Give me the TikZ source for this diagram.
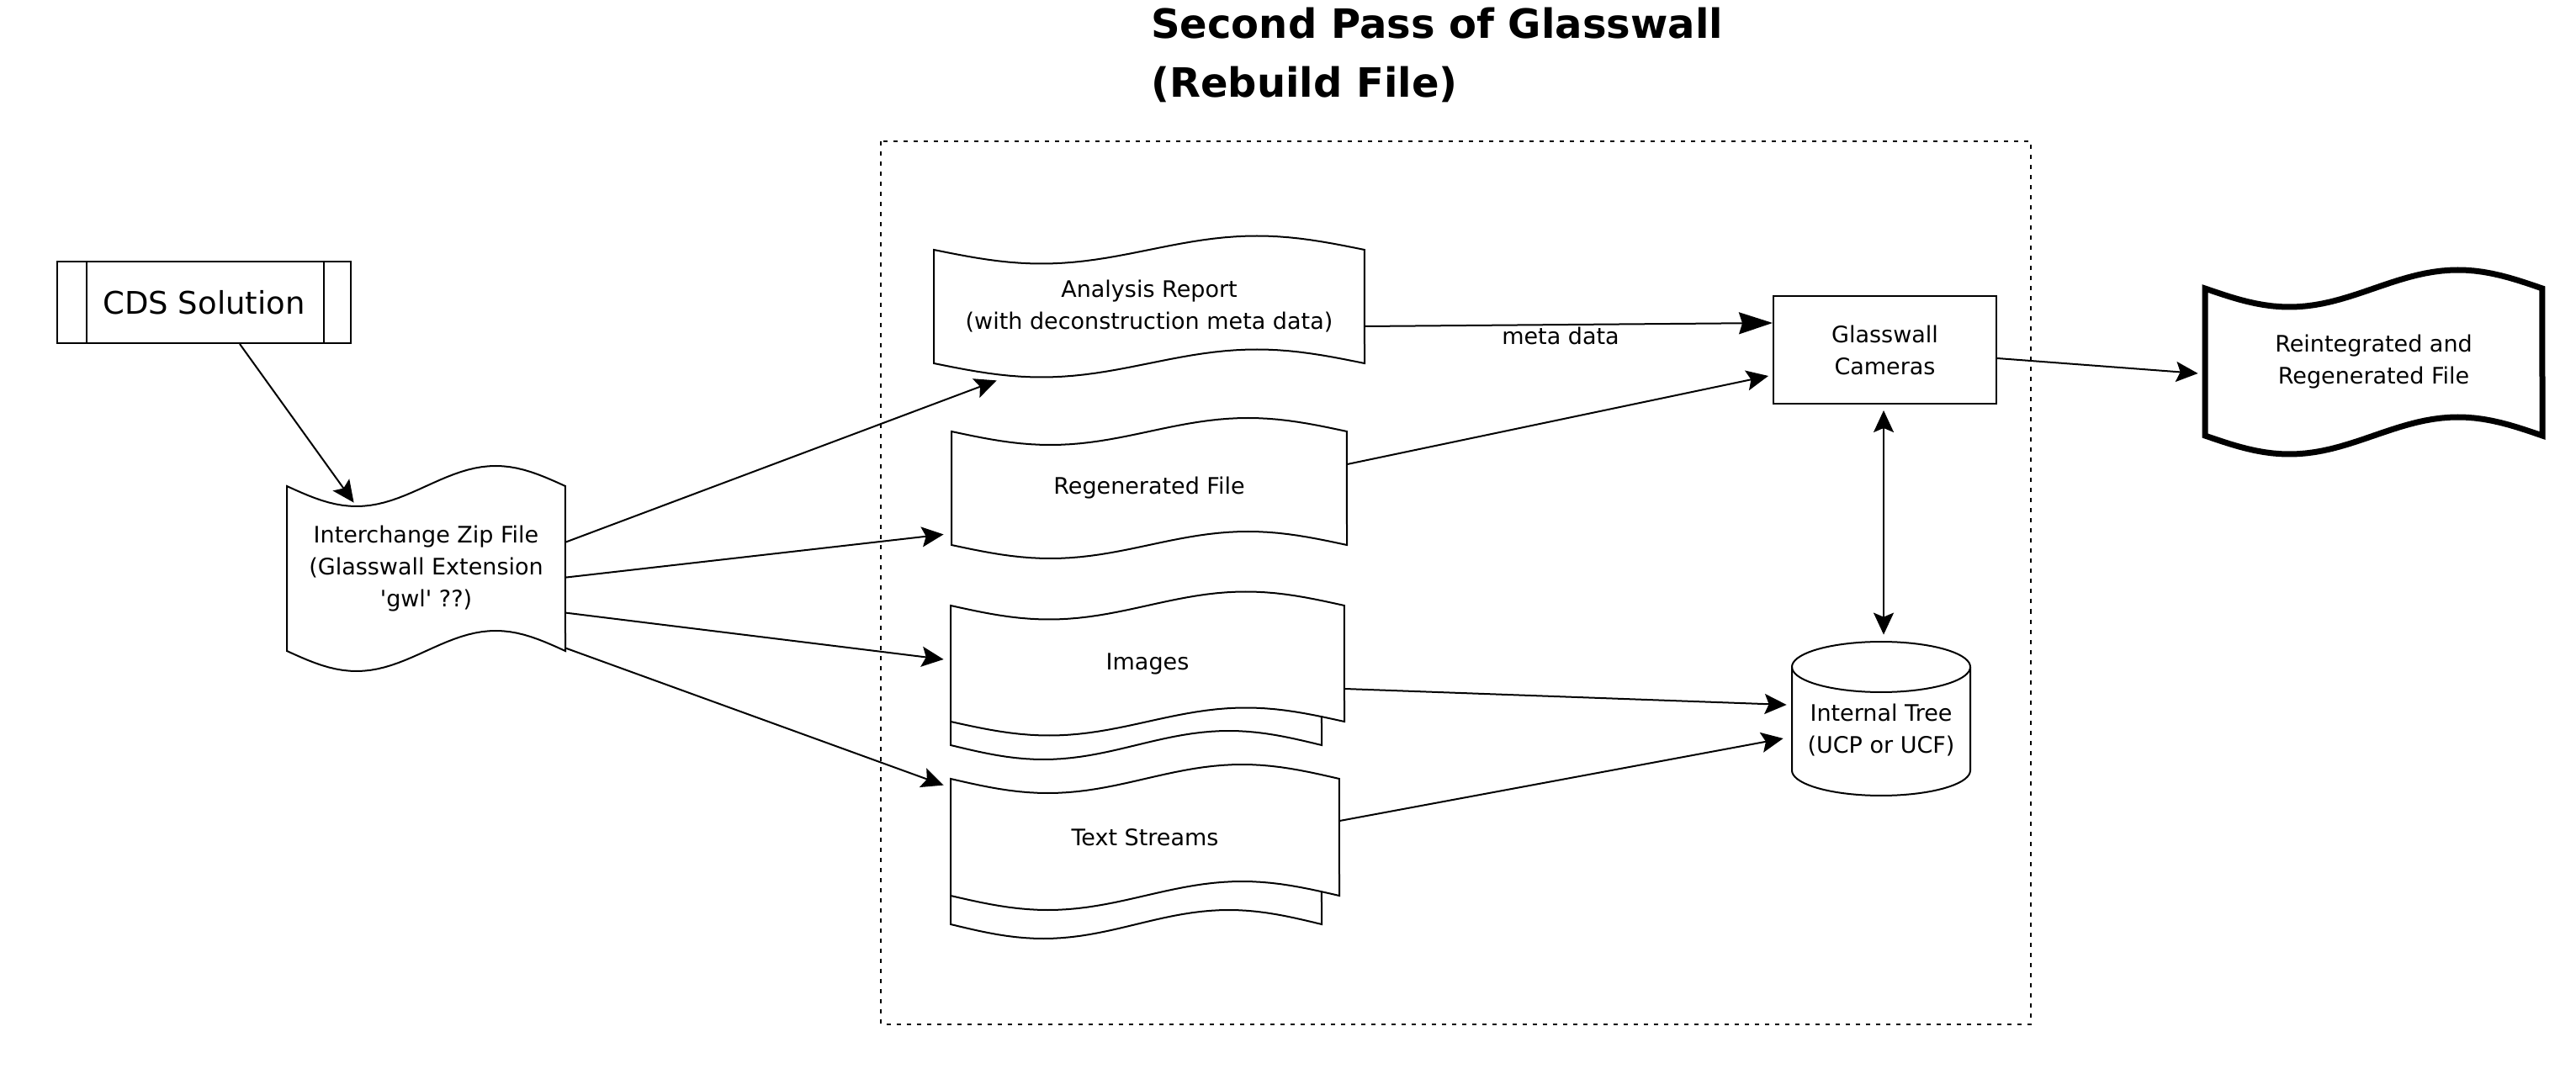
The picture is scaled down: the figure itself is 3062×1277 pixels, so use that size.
\documentclass[tikz,border=0pt]{standalone}
\usepackage{fontspec}
\setmainfont{DejaVu Sans}[Ligatures=TeXOff]
\usetikzlibrary{arrows.meta,calc}
\newcommand\tapeshape[6]{% #1 style, #2 x0, #3 x1, #4 yt, #5 yb, #6 amplitude
  \draw[#1] (#2,#4) -- plot[domain=0:1,samples=41,variable=\t] ({#2+(#3-#2)*\t},{#4+#6*sin(360*\t)})
    -- (#3,#5) -- plot[domain=1:0,samples=41,variable=\t] ({#2+(#3-#2)*\t},{#5+#6*sin(360*\t)}) -- cycle;
}
\tikzset{
  shp/.style={draw=black, line width=1pt, fill=white},
  thickshp/.style={draw=black, line width=3.5pt, fill=white, line join=miter},
  lbl/.style={inner sep=0pt, align=center, font=\fontsize{13.5}{19}\selectfont},
  holder/.style={lbl, draw=none},
  arr/.style={line width=1pt, -{Stealth[length=13pt,width=12pt,inset=2.5pt]}},
  bigarr/.style={line width=1pt, -{Stealth[length=20pt,width=13pt,inset=2pt]}},
  dblarr/.style={line width=1pt, {Stealth[length=13pt,width=12pt,inset=2.5pt]}-{Stealth[length=13pt,width=12pt,inset=2.5pt]}},
  passbox/.style={draw=black, line width=1pt, dash pattern=on 2.5pt off 3.5pt}
}
\begin{document}
\begin{tikzpicture}[x=0.5pt,y=-0.5pt]
\useasboundingbox (0,0) rectangle (3062,1277);
\fill[white] (0,0) rectangle (3062,1277);

% title
\node[anchor=base west, align=left, inner sep=0pt, font=\fontsize{24}{35}\selectfont\bfseries] (title) at (1368,116) {Second Pass of Glasswall\\(Rebuild File)};

% dotted frame
\draw[passbox] (1047,168) rectangle (2413.5,1217.5);

% shapes
\tapeshape{shp}{341}{672}{578}{774}{24}
\tapeshape{shp}{1110}{1622}{297}{432}{16.5}
\tapeshape{shp}{1131}{1601}{513}{648}{16}
\tapeshape{shp}{1130}{1571}{748}{886}{17}
\tapeshape{shp}{1130}{1598}{720}{858}{16.5}
\tapeshape{shp}{1130}{1571}{960}{1099}{17}
\tapeshape{shp}{1130}{1592}{926}{1065}{17}
\tapeshape{thickshp}{2621}{3022}{343}{518}{22}

% cylinder
\draw[shp] (2130,793) -- (2130,916)
  -- plot[domain=180:360,samples=37,variable=\t] ({2236+106*cos(\t)},{916-30*sin(\t)})
  -- (2342,793)
  -- plot[domain=0:180,samples=37,variable=\t] ({2236+106*cos(\t)},{793-30*sin(\t)}) -- cycle;
\draw[line width=1pt] plot[domain=0:180,samples=37,variable=\t] ({2236+106*cos(\t)},{793+30*sin(\t)});

% nodes
\node[draw=black, line width=1pt, inner sep=0pt, minimum width=174.5pt, minimum height=48.5pt, font=\fontsize{18.5}{22}\selectfont] (cds) at (242.5,359.5) {CDS Solution};
\draw[line width=1pt] ($(cds.north west)+(36,0)$) -- ($(cds.south west)+(36,0)$);
\draw[line width=1pt] ($(cds.north east)+(-33,0)$) -- ($(cds.south east)+(-33,0)$);

\node[holder, minimum width=165.5pt, minimum height=98pt] (zip) at (506.5,676) {Interchange Zip File\\(Glasswall Extension\\'gwl' ??)};
\node[holder, minimum width=256pt, minimum height=67.5pt] (ana) at (1366,364.5) {Analysis Report\\(with deconstruction meta data)};
\node[holder, minimum width=235pt, minimum height=67.5pt] (regen) at (1366,580.5) {Regenerated File};
\node[holder, minimum width=234pt, minimum height=69pt] (img) at (1364,789) {Images};
\node[holder, minimum width=231pt, minimum height=69.5pt] (txt) at (1361,995.5) {Text Streams};
\node[lbl, draw=black, line width=1pt, minimum width=132.5pt, minimum height=64pt] (cam) at (2240.5,416) {Glasswall\\Cameras};
\node[holder, minimum width=106pt, minimum height=91.5pt, label={[lbl, yshift=-7pt]center:Internal Tree\\(UCP or UCF)}] (tree) at (2236,854.5) {};
\node[holder, minimum width=200.5pt, minimum height=87.5pt] (reint) at (2821.5,430.5) {Reintegrated and\\Regenerated File};

% connectors
\draw[arr] ($(cds.south)+(42.5,0)$) -- ($(zip.north west)+(80,20)$);
\draw[arr] ($(zip.north east)+(0,67)$) -- ($(ana.south west)+(75,20)$);
\draw[arr] ($(zip.north east)+(0,109)$) -- ($(regen.south west)+(-9,-13)$);
\draw[arr] ($(zip.north east)+(0,151)$) -- ($(img.west)+(-8,-5)$);
\draw[arr] ($(zip.north east)+(0,193)$) -- ($(txt.north west)+(-8,8)$);
\draw[bigarr] ($(ana.east)+(0,23.5)$) -- node[lbl, pos=0.48, below=1pt] (metalbl) {meta data} ($(cam.west)+(0,-32)$);
\draw[arr] ($(regen.east)+(0,-28.5)$) -- ($(cam.west)+(-5,31)$);
\draw[arr] ($(img.east)+(0,30)$) -- ($(tree.west)+(-6,-16.5)$);
\draw[arr] ($(txt.east)+(0,-19.5)$) -- ($(tree.west)+(-10,23.5)$);
\draw[dblarr] ($(cam.south)+(-1.5,7)$) -- ($(tree.north)+(3,-8)$);
\draw[arr] ($(cam.east)+(0,10)$) -- ($(reint.west)+(-8,13.5)$);
\end{tikzpicture}
\end{document}
